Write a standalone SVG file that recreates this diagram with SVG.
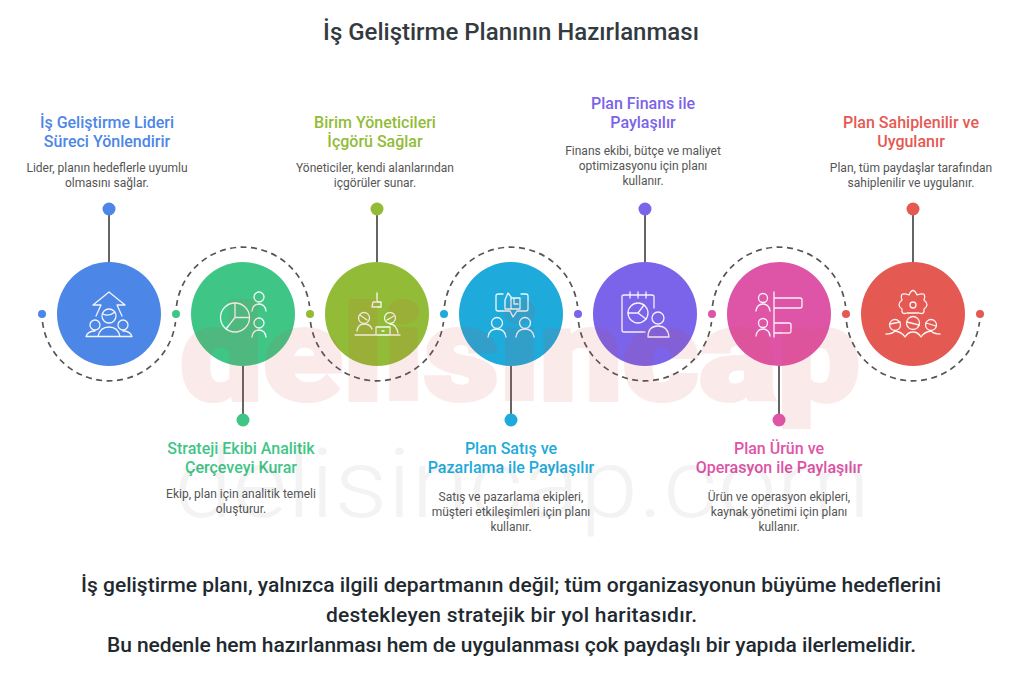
<svg xmlns="http://www.w3.org/2000/svg" width="1024" height="683" viewBox="0 0 1024 683">
<style>
text{font-family:Roboto,"Liberation Sans",sans-serif;text-anchor:middle}
.main{font-size:24px;font-weight:500;fill:#333a40}
.t{font-size:16px;font-weight:500}
.d{font-size:12px;fill:#555}
.foot{font-size:21px;font-weight:500;fill:#1f2a30}
.dash{fill:none;stroke:#555;stroke-width:1.7;stroke-dasharray:6 4.500}
.stem{stroke:#555;stroke-width:1.8}
.i{fill:none;stroke:#fff;stroke-width:1.3;stroke-linecap:round;stroke-linejoin:round;opacity:.92}
</style>
<rect width="1024" height="683" fill="#fff"/>
<text class="main" x="511" y="40">İş Geliştirme Planının Hazırlanması</text>
<g id="connectors">
<path class="dash" d="M42.500 322A67 67 0 0 0 175.500 322"/>
<path class="dash" d="M176.500 306A67 67 0 0 1 309.500 306"/>
<path class="dash" d="M310.500 322A67 67 0 0 0 443.500 322"/>
<path class="dash" d="M444.500 306A67 67 0 0 1 577.500 306"/>
<path class="dash" d="M578.500 322A67 67 0 0 0 711.500 322"/>
<path class="dash" d="M712.500 306A67 67 0 0 1 845.500 306"/>
<path class="dash" d="M846.500 322A67 67 0 0 0 979.500 322"/>
<path class="stem" d="M109 209V262M243 366V420M377 209V262M511 366V420M645 209V262M779 366V420M913 209V262"/>
</g>
<g id="node1">
<circle cx="109" cy="314" r="52" fill="#4c86e6"/><circle cx="109" cy="209" r="6.500" fill="#4c86e6"/><circle cx="42" cy="314" r="4" fill="#4c86e6"/>
<path class="i" d="M96 316L101 305H93L109 292L125 305H117L122 316M102 316A7 7 0 1 1 116 316A7 7 0 1 1 102 316M103 314Q109 317 115 312M90 325A5 5 0 1 1 100 325A5 5 0 1 1 90 325M118 325A5 5 0 1 1 128 325A5 5 0 1 1 118 325M86 336.500H132M86 336.500Q88 331 95 331M123 331Q130 331 132 336.500M98 336.500Q100 327 109 327T120 336.500"/>
<text class="t" fill="#4c86e6" x="107" y="128">İş Geliştirme Lideri</text><text class="t" fill="#4c86e6" x="107" y="147">Süreci Yönlendirir</text>
<text class="d" x="107" y="172">Lider, planın hedeflerle uyumlu</text><text class="d" x="107" y="187">olmasını sağlar.</text>
</g>
<g id="node2">
<circle cx="243" cy="314" r="52" fill="#3fc687"/><circle cx="243" cy="420" r="6.500" fill="#3fc687"/><circle cx="176" cy="314" r="4" fill="#3fc687"/>
<circle class="i" cx="235" cy="317.500" r="14.500"/><path class="i" d="M235 303V317.500H249.500M235 317.500L226 329"/>
<circle class="i" cx="259" cy="297" r="5"/><path class="i" d="M252 311Q253 304 259 304T266 311"/><circle class="i" cx="259" cy="323" r="5"/><path class="i" d="M252 337Q253 330 259 330T266 337"/>
<text class="t" fill="#3fc687" x="241" y="454">Strateji Ekibi Analitik</text><text class="t" fill="#3fc687" x="241" y="473">Çerçeveyi Kurar</text>
<text class="d" x="241" y="498">Ekip, plan için analitik temeli</text><text class="d" x="241" y="513">oluşturur.</text>
</g>
<g id="node3">
<circle cx="377" cy="314" r="52" fill="#92bc38"/><circle cx="377" cy="209" r="6.500" fill="#92bc38"/><circle cx="310" cy="314" r="4" fill="#92bc38"/>
<path class="i" d="M377 293V302M373 302H381L381 307H372ZM355 335H400M376 335V327H390V335M382 331H384"/>
<circle class="i" cx="364" cy="318" r="5.500"/><circle class="i" cx="390" cy="318" r="5.500"/>
<path class="i" d="M357 331Q358 324 364 324T372 329M390 324Q396 324 398 333M360 315L367 320M387 320L394 316"/>
<text class="t" fill="#92bc38" x="375" y="128">Birim Yöneticileri</text><text class="t" fill="#92bc38" x="375" y="147">İçgörü Sağlar</text>
<text class="d" x="375" y="172">Yöneticiler, kendi alanlarından</text><text class="d" x="375" y="187">içgörüler sunar.</text>
</g>
<g id="node4">
<circle cx="511" cy="314" r="52" fill="#1eaadb"/><circle cx="511" cy="420" r="6.500" fill="#1eaadb"/><circle cx="444" cy="314" r="4" fill="#1eaadb"/>
<path class="i" d="M503 294H498Q496 294 496 296V309Q496 311 498 311H510L513 317L517 311H526Q528 311 528 309V296Q528 294 526 294H521M505 300L508 293L511 297V309H505ZM511 298H520V309H511M514 298V304H518"/>
<circle class="i" cx="497" cy="323" r="5.500"/><circle class="i" cx="525" cy="323" r="5.500"/><path class="i" d="M488 337Q489 329 497 329T506 337M516 337Q517 329 525 329T534 337"/>
<text class="t" fill="#1eaadb" x="511" y="454">Plan Satış ve</text><text class="t" fill="#1eaadb" x="511" y="473">Pazarlama ile Paylaşılır</text>
<text class="d" x="511" y="501">Satış ve pazarlama ekipleri,</text><text class="d" x="511" y="516">müşteri etkileşimleri için planı</text><text class="d" x="511" y="531">kullanır.</text>
</g>
<g id="node5">
<circle cx="645" cy="314" r="52" fill="#7b63ea"/><circle cx="645" cy="209" r="6.500" fill="#7b63ea"/><circle cx="578" cy="314" r="4" fill="#7b63ea"/>
<path class="i" d="M645 332H624Q622 332 622 330V297Q622 295 624 295H652Q654 295 654 297V308M630 292V298M638 292V298M646 292V298"/>
<circle class="i" cx="638" cy="313" r="10"/><path class="i" d="M628 313H638L644 305M638 313L646 319"/>
<circle class="i" cx="658" cy="318" r="6"/><path class="i" d="M648 337Q648 326 658 326T669 337Z"/>
<text class="t" fill="#7b63ea" x="643" y="109">Plan Finans ile</text><text class="t" fill="#7b63ea" x="643" y="128">Paylaşılır</text>
<text class="d" x="643" y="155">Finans ekibi, bütçe ve maliyet</text><text class="d" x="643" y="170">optimizasyonu için planı</text><text class="d" x="643" y="185">kullanır.</text>
</g>
<g id="node6">
<circle cx="779" cy="314" r="52" fill="#de55a8"/><circle cx="779" cy="420" r="6.500" fill="#de55a8"/><circle cx="712" cy="314" r="4" fill="#de55a8"/>
<path class="i" d="M774 292V337M774 298H800Q802 298 802 300V306Q802 308 800 308H774M774 323H789Q791 323 791 325V331Q791 333 789 333H774"/>
<circle class="i" cx="763" cy="298" r="4.500"/><circle class="i" cx="763" cy="323" r="4.500"/><path class="i" d="M756 311Q757 304 763 304T770 311M756 336Q757 329 763 329T770 336"/>
<text class="t" fill="#de55a8" x="779" y="454">Plan Ürün ve</text><text class="t" fill="#de55a8" x="779" y="473">Operasyon ile Paylaşılır</text>
<text class="d" x="779" y="501">Ürün ve operasyon ekipleri,</text><text class="d" x="779" y="516">kaynak yönetimi için planı</text><text class="d" x="779" y="531">kullanır.</text>
</g>
<g id="node7">
<circle cx="913" cy="314" r="52" fill="#e55953"/><circle cx="913" cy="209" r="6.500" fill="#e55953"/><circle cx="846" cy="314" r="4" fill="#e55953"/><circle cx="980" cy="314" r="4" fill="#e55953"/>
<circle class="i" cx="913" cy="305" r="3"/><path class="i" d="M909 295Q913 286 917 295Q927 291 924 300Q930 305 924 309Q925 315 919 313H907Q901 315 902 309Q896 305 902 300Q899 291 909 295Z"/>
<circle class="i" cx="895" cy="325" r="5.500"/><circle class="i" cx="913" cy="323" r="6.500"/><circle class="i" cx="931" cy="325" r="5.500"/>
<path class="i" d="M890 324L900 322M907 322L919 325M926 323L936 326M886 334Q892 334 895 331Q902 332 905 337Q908 332 913 332T921 337Q924 332 931 331Q934 334 940 334"/>
<text class="t" fill="#e55953" x="911" y="128">Plan Sahiplenilir ve</text><text class="t" fill="#e55953" x="911" y="147">Uygulanır</text>
<text class="d" x="911" y="172">Plan, tüm paydaşlar tarafından</text><text class="d" x="911" y="187">sahiplenilir ve uygulanır.</text>
</g>
<text class="foot" x="511" y="592" textLength="860">İş geliştirme planı, yalnızca ilgili departmanın değil; tüm organizasyonun büyüme hedeflerini</text>
<text class="foot" x="511.500" y="622" textLength="371">destekleyen stratejik bir yol haritasıdır.</text>
<text class="foot" x="511.500" y="652" textLength="809">Bu nedenle hem hazırlanması hem de uygulanması çok paydaşlı bir yapıda ilerlemelidir.</text>
<g id="watermark">
<text x="520" y="400" font-size="132" font-weight="900" fill="#d9483b" stroke="#d9483b" stroke-width="4" opacity=".1" textLength="680" lengthAdjust="spacingAndGlyphs">delisincap</text>
<text x="522" y="517" font-size="97" font-weight="300" fill="#000" opacity=".045" textLength="696" lengthAdjust="spacingAndGlyphs">delisincap.com</text>
</g>
</svg>
